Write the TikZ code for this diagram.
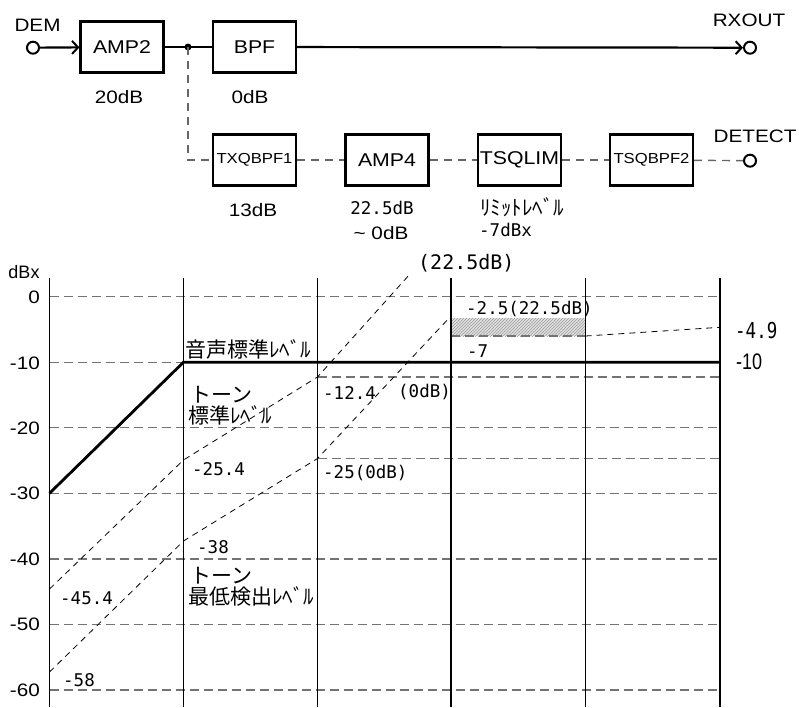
\documentclass[tikz,border=0pt]{standalone}
\usepackage{fontspec}
\usepackage{graphicx}
\setmainfont{Liberation Sans}
\newfontfamily\jpf{Noto Sans CJK JP}
\newfontfamily\monof{DejaVu Sans Mono}
\usetikzlibrary{arrows.meta,patterns}
\newcommand\sx[1]{\scalebox{1.15}[1]{#1}}
\newcommand\tallx[1]{\scalebox{1}[1.25]{#1}}
\begin{document}
\begin{tikzpicture}[x=1pt,y=-1pt,
  blk/.style={draw, line width=2.2pt, minimum width=83pt, minimum height=51pt, inner sep=0pt, font=\fontsize{18.5}{18.5}\selectfont},
  sblk/.style={blk, font=\fontsize{14.5}{14.5}\selectfont},
  wire/.style={line width=2.2pt},
  dwire/.style={line width=1.4pt, draw=black!60, dash pattern=on 8pt off 6pt},
  term/.style={circle, draw, line width=2pt, minimum size=12pt, inner sep=0pt, fill=white},
  barb/.style={-{Straight Barb[length=6pt,width=13pt,line width=2pt]}},
  txt/.style={inner sep=0pt, font=\fontsize{18}{18}\selectfont},
  axl/.style={inner sep=0pt, anchor=east, font=\fontsize{18}{18}\selectfont},
  mono/.style={inner sep=0pt, anchor=west, font=\monof\fontsize{17.5}{17.5}\selectfont},
  jp/.style={inner sep=0pt, anchor=west, font=\jpf\fontsize{21}{21}\selectfont},
  gridl/.style={line width=1.3pt, draw=black!55, dash pattern=on 9pt off 5pt},
  diag/.style={line width=0.8pt, draw=black, dash pattern=on 6pt off 5pt},
  vline/.style={line width=1.6pt}]
\useasboundingbox (0,0) rectangle (799,707);

% ---------- block diagram ----------
\node[blk] (amp2) at (122,47) {\sx{AMP2}};
\node[blk] (bpf) at (254.5,47) {\sx{BPF}};
\node[sblk] (txq) at (254.5,160) {\sx{TXQBPF1}};
\node[blk] (amp4) at (387,160) {\sx{AMP4}};
\node[blk] (tsqlim) at (519.5,160) {\sx{TSQLIM}};
\node[sblk] (tsqb) at (651.5,160) {\sx{TSQBPF2}};
\node[term] (dem) at (33,47.7) {};
\node[term] (rx) at (750,47.7) {};
\node[term] (det) at (750,160.7) {};
\coordinate (j) at (188,47);

\draw[wire, barb] (dem) -- (amp2);
\draw[wire] (amp2) -- (j) -- (bpf);
\fill (j) circle (3.5);
\draw[wire, barb] (bpf) -- (rx);
\draw[dwire] (j) |- (txq);
\draw[dwire] (txq) -- (amp4);
\draw[dwire] (amp4) -- (tsqlim);
\draw[dwire] (tsqlim) -- (tsqb);
\draw[dwire] (tsqb) -- (det);

\node[txt] (tdem) at (37.5,25) {\sx{DEM}};
\node[txt] (trx) at (749,20) {\sx{RXOUT}};
\node[txt] (tdet) at (755,136) {\sx{DETECT}};
\node[txt] (g1) at (119,97) {\sx{20dB}};
\node[txt] (g2) at (250,97) {\sx{0dB}};
\node[txt] (g3) at (253,210) {\sx{13dB}};
\node[mono, anchor=center] (g4) at (382,208) {22.5dB};
\node[txt] (g5) at (381,233) {\sx{\textasciitilde\ 0dB}};
\node[jp, anchor=center] (g6) at (522,207) {ﾘﾐｯﾄﾚﾍﾞﾙ};
\node[mono] (g7) at (479,230) {-7dBx};

% ---------- chart ----------
% hatch
\fill[gray!22] (451,318) rectangle (585.5,336);
\fill[pattern=north east lines, pattern color=gray!80] (451,318) rectangle (585.5,336);

% grid
\foreach \yy in {296.7,362.2,427.7,493.3,559,624.3,690}{
  \draw[gridl] (49.5,\yy) -- (720,\yy);
}
\draw[gridl] (317.5,377) -- (720,377);
\draw[gridl] (317.5,458.5) -- (720,458.5);
\draw[gridl] (451,336) -- (585.5,336);
\draw[diag] (585.5,336) -- (720,327.3);

% verticals
\foreach \xx in {49.5,183.5,317.5,451,585.5,720}{
  \draw[vline] (\xx,277.5) -- (\xx,707);
}

% level lines
\draw[line width=2.8pt] (49.5,493.3) -- (183.5,362.2) -- (720,362.2);
\draw[diag] (49.5,589) -- (183.5,460) -- (317.5,377) -- (410,274);
\draw[diag] (49.5,672) -- (183.5,541) -- (317.5,458.5) -- (451,316);

% axis labels
\node[inner sep=0pt, font=\fontsize{18}{18}\selectfont] (dbx) at (24,272) {dBx};
\node[axl] (a0) at (40,297) {\sx{0}};
\node[axl] (a1) at (40,363) {\sx{-10}};
\node[axl] (a2) at (40,428) {\sx{-20}};
\node[axl] (a3) at (40,493) {\sx{-30}};
\node[axl] (a4) at (40,559) {\sx{-40}};
\node[axl] (a5) at (40,624) {\sx{-50}};
\node[axl] (a6) at (40,690) {\sx{-60}};

% chart labels
\node[jp] (l1) at (185,349) {音声標準ﾚﾍﾞﾙ};
\node[jp] (l2) at (190,395) {トーン};
\node[jp] (l3) at (188,415) {標準ﾚﾍﾞﾙ};
\node[mono] (l4) at (323,393) {-12.4};
\node[mono] (l5) at (398,392) {(0dB)};
\node[mono] (l6) at (192,469) {-25.4};
\node[mono] (l7) at (323,473) {-25(0dB)};
\node[mono] (l8) at (197,547) {-38};
\node[jp] (l9) at (190,576) {トーン};
\node[jp] (l10) at (188,596) {最低検出ﾚﾍﾞﾙ};
\node[mono] (l11) at (60,598) {-45.4};
\node[mono] (l12) at (63,680) {-58};
\node[mono, font=\monof\fontsize{20}{20}\selectfont] (l13) at (418,263) {(22.5dB)};
\node[mono] (l14) at (466,309) {-2.5(22.5dB)};
\node[mono] (l15) at (467,351) {-7};
\node[mono] (l16) at (735,331) {\tallx{-4.9}};
\node[txt, anchor=west, font=\fontsize{18}{18}\selectfont] (l17) at (736,362) {\tallx{-10}};
\end{tikzpicture}
\end{document}
